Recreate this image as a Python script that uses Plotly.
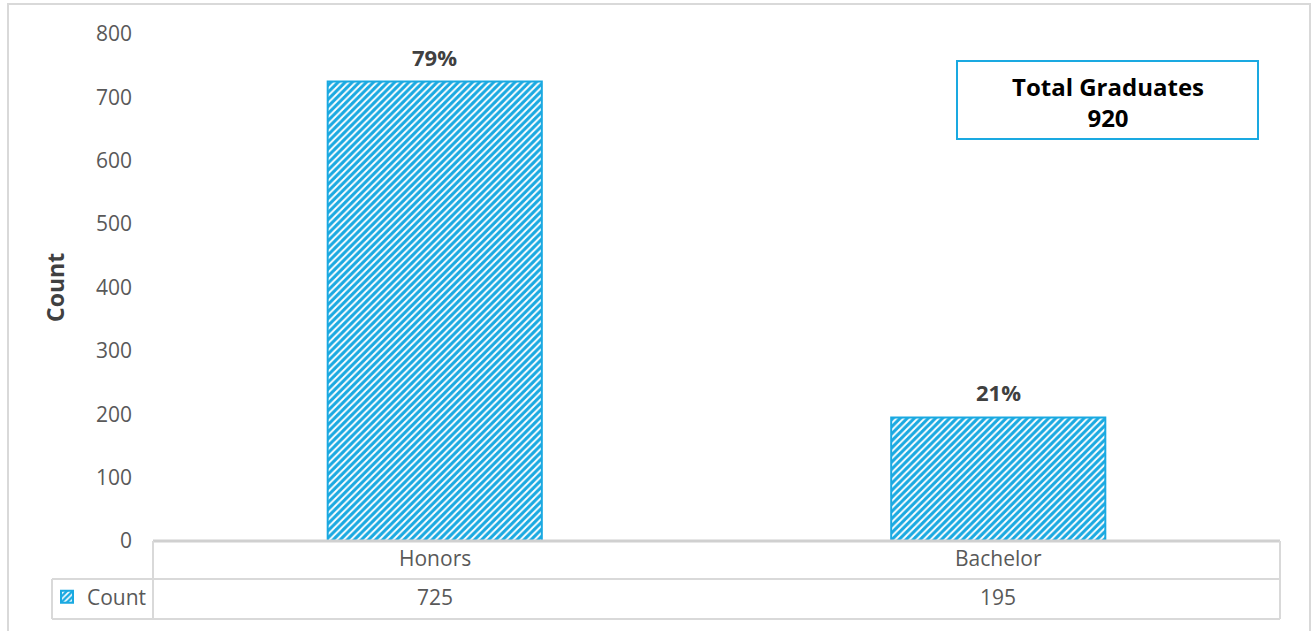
import plotly.graph_objects as go

categories = ["Honors", "Bachelor"]
counts = [725, 195]
series_name = "Count"
y_ticks = [0, 100, 200, 300, 400, 500, 600, 700, 800]
box_title = "Total Graduates"

W, H = 1313, 631
BLUE = "#1AA9E1"
GRAY_TXT = "#595959"
LINE = "#D9D9D9"
FONT = "Open Sans"

def px(x):
    return x / W

def py(y):
    return (H - y) / H

total = sum(counts)
pcts = [f"{round(100 * c / total)}%" for c in counts]

fig = go.Figure()
fig.add_trace(go.Bar(
    x=categories, y=counts, name=series_name, width=0.38,
    marker=dict(color="white", line=dict(color=BLUE, width=2),
                pattern=dict(shape="/", fgcolor=BLUE, bgcolor="white",
                             size=5, solidity=0.62, fillmode="replace")),
    showlegend=True,
))

ann = []
# percent labels above bars
for c, v, p in zip(categories, counts, pcts):
    ann.append(dict(x=c, y=v, xref="x", yref="y", text=f"<b>{p}</b>", showarrow=False,
                    xanchor="center", yanchor="middle",
                    yshift=25, font=dict(family=FONT, size=22, color="#404040")))
# data table: category row and value row
for c, v in zip(categories, counts):
    ann.append(dict(x=c, y=py(558), xref="x", yref="paper", text=c, showarrow=False,
                    xanchor="center", yanchor="middle",
                    font=dict(family=FONT, size=21, color=GRAY_TXT)))
    ann.append(dict(x=c, y=py(597), xref="x", yref="paper", text=str(v), showarrow=False,
                    xanchor="center", yanchor="middle",
                    font=dict(family=FONT, size=21, color=GRAY_TXT)))
# y-axis title
ann.append(dict(x=px(55), y=py(287), xref="paper", yref="paper", text="<b>Count</b>",
                xanchor="center", yanchor="middle",
                textangle=-90, showarrow=False, font=dict(family=FONT, size=23, color="#404040")))
# total box text
ann.append(dict(x=px(1108), y=py(102), xref="paper", yref="paper",
                text=f"<b>{box_title}<br>{total}</b>", showarrow=False,
                xanchor="center", yanchor="middle",
                font=dict(family=FONT, size=24, color="black")))

shapes = []
def line(x0, y0, x1, y1, color=LINE, w=2):
    shapes.append(dict(type="line", xref="paper", yref="paper", x0=px(x0), y0=py(y0),
                       x1=px(x1), y1=py(y1), line=dict(color=color, width=w)))
# outer chart border
shapes.append(dict(type="rect", xref="paper", yref="paper", x0=px(8), y0=py(640), x1=px(1310), y1=py(4),
                   line=dict(color=LINE, width=2), fillcolor="rgba(0,0,0,0)", layer="below"))
# table lines
line(153, 541, 1280, 541, color="#D0D0D0", w=3)
line(52, 579, 1280, 579)
line(52, 619, 1280, 619)
line(153, 541, 153, 619)
line(1280, 541, 1280, 619)
line(52, 579, 52, 619)
# total box
shapes.append(dict(type="rect", xref="paper", yref="paper", x0=px(957), y0=py(139), x1=px(1258), y1=py(61),
                   line=dict(color=BLUE, width=2), fillcolor="white"))

fig.update_layout(
    width=W, height=H, margin=dict(l=0, r=0, t=0, b=0, autoexpand=False),
    paper_bgcolor="white", plot_bgcolor="white",
    font=dict(family=FONT, size=20, color=GRAY_TXT),
    xaxis=dict(domain=[px(153), px(1280)], showticklabels=False, showgrid=False,
               zeroline=False, showline=False, ticks="", automargin=False),
    yaxis=dict(domain=[py(541), py(34)], range=[0, 800], tickvals=y_ticks,
               showgrid=False, zeroline=False, showline=False, ticks="", automargin=False,
               ticklabelstandoff=20, tickfont=dict(family=FONT, size=21, color=GRAY_TXT)),
    legend=dict(x=px(47), y=py(597), xanchor="left", yanchor="middle",
                bgcolor="rgba(0,0,0,0)", font=dict(family=FONT, size=21, color=GRAY_TXT),
                itemwidth=30),
    annotations=ann, shapes=shapes, bargap=0.62,
)

fig.write_html("out.html")
